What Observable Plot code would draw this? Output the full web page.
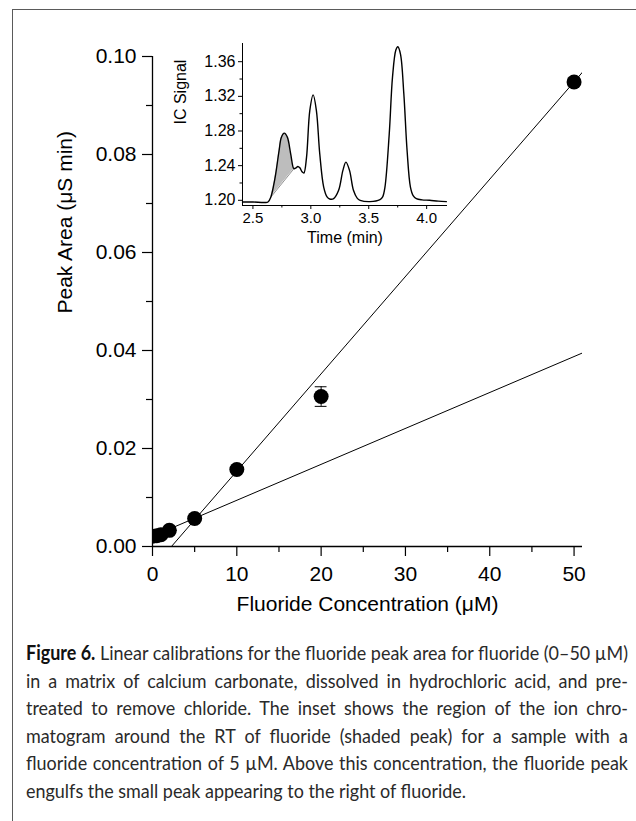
<!DOCTYPE html>
<html>
<head>
<meta charset="utf-8">
<script src="https://cdn.jsdelivr.net/npm/d3@7"></script>
<script src="https://cdn.jsdelivr.net/npm/@observablehq/plot@0.6"></script>
<style>
  html, body { margin: 0; padding: 0; background: #fff; }
  body { width: 636px; height: 821px; overflow: hidden; position: relative; }
  #frame { position: absolute; left: 12px; top: 9px; width: 700px; height: 900px;
           border-left: 1.4px solid #5a5a5a; border-top: 1.4px solid #5a5a5a; }
  #main { position: absolute; left: 0; top: 0; }
  #inset { position: absolute; left: 160px; top: 30px; }
  #caption { position: absolute; left: 26px; top: 639px; width: 602px;
             font-family: Lato, "Open Sans", sans-serif; font-size: 20px; line-height: 27.6px; color: #2a2a2a; }
  #caption div { white-space: nowrap; height: 27.6px; }
  #caption span.ln { display: inline-block; transform-origin: 0 50%; }
</style>
</head>
<body>
<div id="frame"></div>
<div id="main"></div>
<div id="inset"></div>
<div id="caption"></div>
<script>
// ---------- main calibration data ----------
const concentration = [0, 0.5, 1, 2, 5, 10, 20, 50];          // µM
const peakArea      = [0.0021, 0.0022, 0.0024, 0.0033, 0.0057, 0.0157, 0.0306, 0.0948]; // µS min
const peakAreaErr   = [0.0002, 0.0002, 0.0002, 0.0003, 0.0003, 0.0005, 0.0020, 0.0008];

// fitted calibration lines (end points)
const lowFitX  = [0, 51];
const lowFitY  = [0.0021, 0.0395];
const highFitX = [2.25, 51];
const highFitY = [0, 0.0968];

const xDomain = [0, 51];
const yDomain = [0, 0.10];
const xMajorTicks = [0, 10, 20, 30, 40, 50];
const xMinorTicks = [5, 15, 25, 35, 45];
const yMajorTicks = [0, 0.02, 0.04, 0.06, 0.08, 0.10];
const yMinorTicks = [0.01, 0.03, 0.05, 0.07, 0.09];
const xTitle = "Fluoride Concentration (\u03BCM)";
const yTitle = "Peak Area (\u03BCS min)";

// ---------- inset chromatogram ----------
const time = [2.41, 2.50, 2.60, 2.63, 2.654, 2.68, 2.697, 2.726, 2.746, 2.771, 2.797, 2.826, 2.854, 2.872,
  2.888, 2.905, 2.926, 2.94, 2.963, 2.991, 3.020, 3.048, 3.077, 3.111, 3.140, 3.163, 3.197, 3.240, 3.277,
  3.303, 3.334, 3.368, 3.40, 3.426, 3.511, 3.597, 3.620, 3.640, 3.677, 3.705, 3.734, 3.751, 3.774, 3.803,
  3.831, 3.860, 3.885, 3.911, 3.96, 4.025, 4.10, 4.17];
const signal = [1.198, 1.198, 1.1975, 1.198, 1.2035, 1.218, 1.2307, 1.2575, 1.2729, 1.2775, 1.2729, 1.2537,
  1.2365, 1.2375, 1.2391, 1.2375, 1.2326, 1.2315, 1.2499, 1.3036, 1.3217, 1.3036, 1.2537, 1.2153, 1.204,
  1.2015, 1.2019, 1.2115, 1.2345, 1.2441, 1.2345, 1.2115, 1.2025, 1.200, 1.1985, 1.2008, 1.204, 1.2153,
  1.2767, 1.3419, 1.3734, 1.3773, 1.3688, 1.3228, 1.2575, 1.2153, 1.205, 1.2019, 1.2005, 1.200, 1.199, 1.1985];
const shadeStart = 2.654, shadeEnd = 2.854;   // fluoride peak integration limits (min)

const tDomain = [2.41, 4.18];
const sDomain = [1.194, 1.381];
const tMajorTicks = [2.5, 3.0, 3.5, 4.0];
const tMinorTicks = [2.75, 3.25, 3.75];
const sMajorTicks = [1.20, 1.24, 1.28, 1.32, 1.36];
const sMinorTicks = [1.22, 1.26, 1.30, 1.34];
const tTitle = "Time (min)";
const sTitle = "IC Signal";

// ---------- caption ----------
const captionLead = "Figure 6.";
const captionLines = [
  "Linear calibrations for the fluoride peak area for fluoride (0\u201350 \u00B5M)",
  "in a matrix of calcium carbonate, dissolved in hydrochloric acid, and pre-",
  "treated to remove chloride. The inset shows the region of the ion chro-",
  "matogram around the RT of fluoride (shaded peak) for a sample with a",
  "fluoride concentration of 5 \u00B5M. Above this concentration, the fluoride peak",
  "engulfs the small peak appearing to the right of fluoride."
];

// ====================================================
const FONT = '"Liberation Sans", Arial, Helvetica, sans-serif';
const pts = concentration.map((c, i) => ({c, a: peakArea[i], e: peakAreaErr[i]}));
const capHalf = 0.7;
const caps = pts.flatMap(d => [{c: d.c, y: d.a - d.e}, {c: d.c, y: d.a + d.e}]);
const lowFit = lowFitX.map((x, i) => ({x, y: lowFitY[i]}));
const highFit = highFitX.map((x, i) => ({x, y: highFitY[i]}));

const main = Plot.plot({
  width: 636, height: 640,
  marginLeft: 152, marginRight: 54, marginTop: 56, marginBottom: 94,
  style: {fontFamily: FONT, fontSize: "21px", color: "#000", background: "transparent", overflow: "visible"},
  x: {domain: xDomain},
  y: {domain: yDomain},
  marks: [
    Plot.axisX({ticks: xMajorTicks, tickSize: 10, tickPadding: 10, fontSize: 21, tickFormat: d3.format("d"), label: null, strokeWidth: 1.2}),
    Plot.axisX({ticks: xMinorTicks, tickSize: 6, tickFormat: () => "", label: null, strokeWidth: 1.2}),
    Plot.axisY({ticks: yMajorTicks, tickSize: 10, tickPadding: 6, fontSize: 21, tickFormat: d3.format(".2f"), label: null, strokeWidth: 1.2}),
    Plot.axisY({ticks: yMinorTicks, tickSize: 6, tickFormat: () => "", label: null, strokeWidth: 1.2}),
    Plot.line(lowFit, {x: "x", y: "y", stroke: "#000", strokeWidth: 1, clip: true}),
    Plot.line(highFit, {x: "x", y: "y", stroke: "#000", strokeWidth: 1, clip: true}),
    Plot.ruleX(pts, {x: "c", y1: d => d.a - d.e, y2: d => d.a + d.e, stroke: "#000", strokeWidth: 1, clip: true}),
    Plot.ruleY(caps, {y: "y", x1: d => d.c - capHalf, x2: d => d.c + capHalf, stroke: "#000", strokeWidth: 1, clip: true}),
    Plot.dot(pts, {x: "c", y: "a", r: 7.5, fill: "#000", stroke: "none", clip: true}),
    Plot.ruleX([xDomain[0]], {stroke: "#000", strokeWidth: 1.3}),
    Plot.ruleY([yDomain[0]], {stroke: "#000", strokeWidth: 1.3}),
    Plot.text([xTitle], {text: d => d, frameAnchor: "bottom", dy: 64, fontSize: 21, fill: "#000"}),
    Plot.text([yTitle], {text: d => d, frameAnchor: "left", dx: -87, dy: 12, rotate: -90, fontSize: 21, fill: "#000"})
  ]
});
document.getElementById("main").append(main);

const chrom = time.map((t, i) => ({t, s: signal[i]}));
const i0 = time.indexOf(shadeStart), i1 = time.indexOf(shadeEnd);
const b0 = signal[i0], b1 = signal[i1];
const shade = chrom.slice(i0, i1 + 1).map(d => ({t: d.t, s: d.s, base: b0 + (b1 - b0) * (d.t - shadeStart) / (shadeEnd - shadeStart)}));
const chord = [{t: shadeStart, s: b0}, {t: shadeEnd, s: b1}];

const inset = Plot.plot({
  width: 300, height: 225,
  marginLeft: 82, marginRight: 13, marginTop: 13, marginBottom: 50,
  style: {fontFamily: FONT, fontSize: "15px", color: "#000", background: "transparent", overflow: "visible"},
  x: {domain: tDomain},
  y: {domain: sDomain},
  marks: [
    Plot.areaY(shade, {x: "t", y1: "base", y2: "s", fill: "#bdbdbd", curve: "catmull-rom"}),
    Plot.line(chord, {x: "t", y: "s", stroke: "#777", strokeWidth: 0.8}),
    Plot.line(chrom, {x: "t", y: "s", stroke: "#000", strokeWidth: 1.4, curve: "catmull-rom"}),
    Plot.axisX({ticks: tMajorTicks, tickSize: 4, tickPadding: 3, fontSize: 15, tickFormat: d3.format(".1f"), label: null}),
    Plot.axisX({ticks: tMinorTicks, tickSize: 2.5, tickFormat: () => "", label: null}),
    Plot.axisY({ticks: sMajorTicks, tickSize: 4, tickPadding: 3, fontSize: 16, tickFormat: d3.format(".2f"), label: null}),
    Plot.axisY({ticks: sMinorTicks, tickSize: 2.5, tickFormat: () => "", label: null}),
    Plot.ruleX([tDomain[0]], {stroke: "#000", strokeWidth: 1}),
    Plot.ruleY([sDomain[0]], {stroke: "#000", strokeWidth: 1}),
    Plot.text([tTitle], {text: d => d, frameAnchor: "bottom", dy: 37, fontSize: 16, fill: "#000"}),
    Plot.text([sTitle], {text: d => d, frameAnchor: "left", dx: -62, rotate: -90, fontSize: 16, fill: "#000"})
  ]
});
document.getElementById("inset").append(inset);

// caption, justified line by line
const cap = document.getElementById("caption");
const target = 602;
const spans = captionLines.map((line, i) => {
  const div = document.createElement("div");
  const span = document.createElement("span");
  span.className = "ln";
  if (i === 0) {
    const b = document.createElement("b");
    b.textContent = captionLead;
    b.style.color = "#111";
    span.append(b, " " + line);
  } else {
    span.textContent = line;
  }
  div.append(span);
  cap.append(div);
  return span;
});
const widths = spans.map(s => s.getBoundingClientRect().width);
const k = Math.min(1, target / Math.max(...widths.slice(0, -1)));
spans.forEach((s, i) => {
  s.style.transform = `scaleX(${k})`;
  if (i < spans.length - 1) {
    const n = (s.textContent.match(/ /g) || []).length;
    s.style.wordSpacing = ((target / k - widths[i]) / n) + "px";
  }
});
</script>
</body>
</html>
